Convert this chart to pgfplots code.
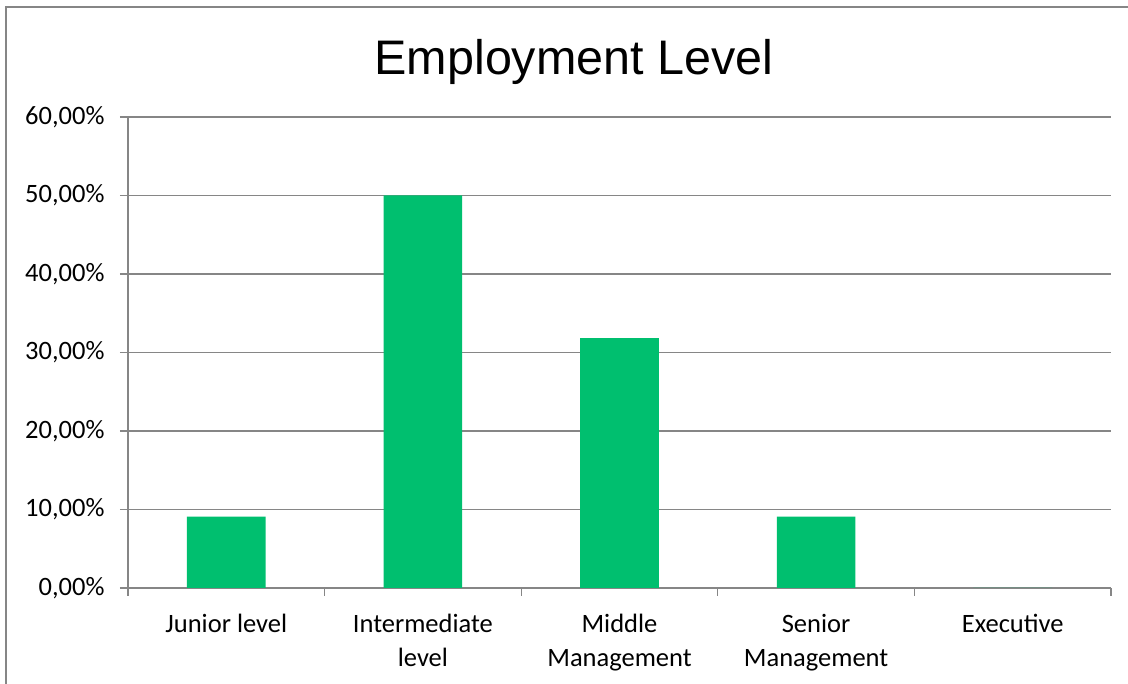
\documentclass[border=0pt]{standalone}
\usepackage{pgfplots}
\pgfplotsset{compat=1.18}
\usepackage{fontspec}
\setmainfont{Carlito}
\newfontfamily\titlefont{Liberation Sans}
\definecolor{bargreen}{RGB}{0,191,111}
\definecolor{gridgray}{RGB}{134,134,134}
\begin{document}
\begin{tikzpicture}[x=1pt,y=1pt]
\useasboundingbox (0,0) rectangle (1128,684);
\fill[white] (0,0) rectangle (1128,684);
\draw[gridgray,line width=1.5pt] (6,-10) -- (6,677) -- (1140,677);
\node[font=\titlefont\fontsize{48.5}{54}\selectfont, anchor=base] at (574,609) {Employment Level};
\begin{axis}[
  at={(128pt,96pt)}, anchor=south west,
  width=983pt, height=471pt, scale only axis,
  xmin=-0.5, xmax=4.5, ymin=0, ymax=60,
  axis x line*=bottom, axis y line*=left,
  axis line style={gridgray, line width=1.2pt},
  xtick={0,1,2,3,4},
  xticklabels={Junior level,{Intermediate\\level},{Middle\\Management},{Senior\\Management},Executive},
  x tick label style={align=center, font=\fontsize{26.5}{34}\selectfont, yshift=-15pt},
  minor xtick={-0.5,0.5,1.5,2.5,3.5,4.5},
  major x tick style={draw=none},
  minor x tick style={gridgray, line width=1.2pt},
  ytick={0,10,20,30,40,50,60},
  yticklabels={{0,00\%},{10,00\%},{20,00\%},{30,00\%},{40,00\%},{50,00\%},{60,00\%}},
  y tick label style={font=\fontsize{26.5}{30}\selectfont, xshift=-12pt},
  ymajorgrids, grid style={gridgray, line width=1.2pt},
  y tick style={gridgray, line width=1.2pt},
  tick align=outside, major tick length=8pt, minor tick length=8pt,
  ybar, bar width=0.4, bar shift=0pt,
]
\addplot[fill=bargreen, draw=none] coordinates {(0,9.09) (1,50.00) (2,31.82) (3,9.09) (4,0)};
\end{axis}
\end{tikzpicture}
\end{document}
